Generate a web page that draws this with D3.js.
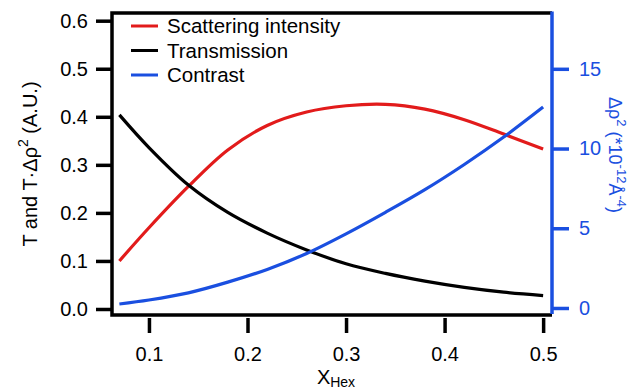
<!DOCTYPE html>
<html lang="en">
<head>
<meta charset="utf-8">
<title>Scattering intensity vs X_Hex</title>
<script src="https://d3js.org/d3.v7.min.js"></script>
<style>
  body { margin: 0; background: #fff; }
  text { font-family: "Liberation Sans", Arial, sans-serif; }
</style>
</head>
<body>
<svg id="chart" width="639" height="389"></svg>
<script>
// data
var xHex       = [0.07, 0.10, 0.14, 0.18, 0.22, 0.26, 0.30, 0.34, 0.38, 0.42, 0.46, 0.50];
var scattering = [0.100, 0.169, 0.255, 0.331, 0.382, 0.410, 0.423, 0.426, 0.416, 0.394, 0.364, 0.333];
var transmission = [0.404, 0.336, 0.258, 0.201, 0.158, 0.123, 0.094, 0.074, 0.058, 0.045, 0.035, 0.028];
var contrast   = [0.25, 0.50, 0.95, 1.62, 2.42, 3.42, 4.65, 6.00, 7.42, 9.00, 10.72, 12.60];
var xTicks  = [0.1, 0.2, 0.3, 0.4, 0.5];
var yLTicks = [0.0, 0.1, 0.2, 0.3, 0.4, 0.5, 0.6];
var yRTicks = [0, 5, 10, 15];
var legendNames = ["Scattering intensity", "Transmission", "Contrast"];

var RED = "#e21b1b", BLUE = "#1a4fe0";

var svg = d3.select("#chart");
var plotL = 112, plotR = 552, plotT = 13, plotB = 315;

var x = d3.scaleLinear().domain([0.0625, 0.509]).range([plotL, plotR]);
var yL = d3.scaleLinear().domain([-0.0125, 0.616]).range([plotB, plotT]);
var yR = d3.scaleLinear().domain([-0.44, 18.5]).range([plotB, plotT]);

// curves
function drawLine(vals, yScale, color) {
  var line = d3.line()
    .x(function(d, i) { return x(xHex[i]); })
    .y(function(d) { return yScale(d); })
    .curve(d3.curveCatmullRom.alpha(0.5));
  svg.append("path")
    .datum(vals)
    .attr("fill", "none")
    .attr("stroke", color)
    .attr("stroke-width", 3.2)
    .attr("d", line);
}
drawLine(scattering, yL, RED);
drawLine(transmission, yL, "#000");
drawLine(contrast, yR, BLUE);

// frame
svg.append("path")
  .attr("d", "M" + plotR + "," + plotT + "H" + plotL + "V" + plotB + "H" + plotR)
  .attr("fill", "none").attr("stroke", "#000").attr("stroke-width", 3.5);

// left axis
var gL = svg.append("g").attr("transform", "translate(" + plotL + ",0)")
  .call(d3.axisLeft(yL).tickValues(yLTicks).tickFormat(d3.format(".1f"))
        .tickSize(16).tickPadding(8));
gL.select(".domain").remove();
gL.selectAll("line").attr("stroke", "#000").attr("stroke-width", 3.5);
gL.selectAll("text").attr("font-size", 20).attr("fill", "#000")
  .attr("font-family", "Liberation Sans, Arial, sans-serif");

// bottom axis (detached ticks below frame)
var gB = svg.append("g").attr("transform", "translate(0," + (plotB + 3) + ")")
  .call(d3.axisBottom(x).tickValues(xTicks).tickFormat(d3.format(".1f"))
        .tickSize(15).tickPadding(14));
gB.select(".domain").remove();
gB.selectAll("line").attr("stroke", "#000").attr("stroke-width", 3.5);
gB.selectAll("text").attr("font-size", 20).attr("fill", "#000")
  .attr("font-family", "Liberation Sans, Arial, sans-serif");

// right axis
var gR = svg.append("g").attr("transform", "translate(" + plotR + ",0)")
  .call(d3.axisRight(yR).tickValues(yRTicks).tickSize(17).tickPadding(10));
gR.select(".domain").remove();
gR.append("line").attr("y1", plotT - 1.5).attr("y2", plotB - 1)
  .attr("stroke", BLUE).attr("stroke-width", 3.5);
gR.selectAll(".tick line").attr("stroke", BLUE).attr("stroke-width", 3.5);
gR.selectAll("text").attr("font-size", 20).attr("fill", BLUE)
  .attr("font-family", "Liberation Sans, Arial, sans-serif");

// axis titles
var tL = svg.append("text")
  .attr("transform", "translate(37," + ((plotT + plotB) / 2) + ") rotate(-90)")
  .attr("text-anchor", "middle").attr("font-size", 20).attr("fill", "#000");
tL.append("tspan").text("T and T\u00b7\u0394\u03c1");
tL.append("tspan").attr("dy", -9).attr("font-size", 14).text("2");
tL.append("tspan").attr("dy", 9).text(" (A.U.)");

var tR = svg.append("text")
  .attr("transform", "translate(609,155) rotate(90)")
  .attr("text-anchor", "middle").attr("font-size", 18).attr("fill", BLUE);
tR.append("tspan").text("\u0394\u03c1");
tR.append("tspan").attr("dy", -8).attr("font-size", 13).text("2");
tR.append("tspan").attr("dy", 8).text(" (*10");
tR.append("tspan").attr("dy", -8).attr("font-size", 13).text("-12");
tR.append("tspan").attr("dy", 8).text("\u00c5");
tR.append("tspan").attr("dy", -8).attr("font-size", 13).text("-4");
tR.append("tspan").attr("dy", 8).text(")");

var tB = svg.append("text")
  .attr("x", 336).attr("y", 384)
  .attr("text-anchor", "middle").attr("font-size", 20).attr("fill", "#000");
tB.append("tspan").text("X");
tB.append("tspan").attr("dy", 3).attr("font-size", 14).text("Hex");

// legend
var legendColors = [RED, "#000", BLUE];
var lg = svg.append("g").selectAll("g").data(legendNames).enter().append("g")
  .attr("transform", function(d, i) { return "translate(131," + (26 + i * 24.5) + ")"; });
lg.append("line").attr("x1", 0).attr("x2", 27)
  .attr("stroke", function(d, i) { return legendColors[i]; }).attr("stroke-width", 3);
lg.append("text").attr("x", 36).attr("dy", "0.35em")
  .attr("font-size", 20.5).attr("fill", "#000").text(function(d) { return d; });
</script>
</body>
</html>
